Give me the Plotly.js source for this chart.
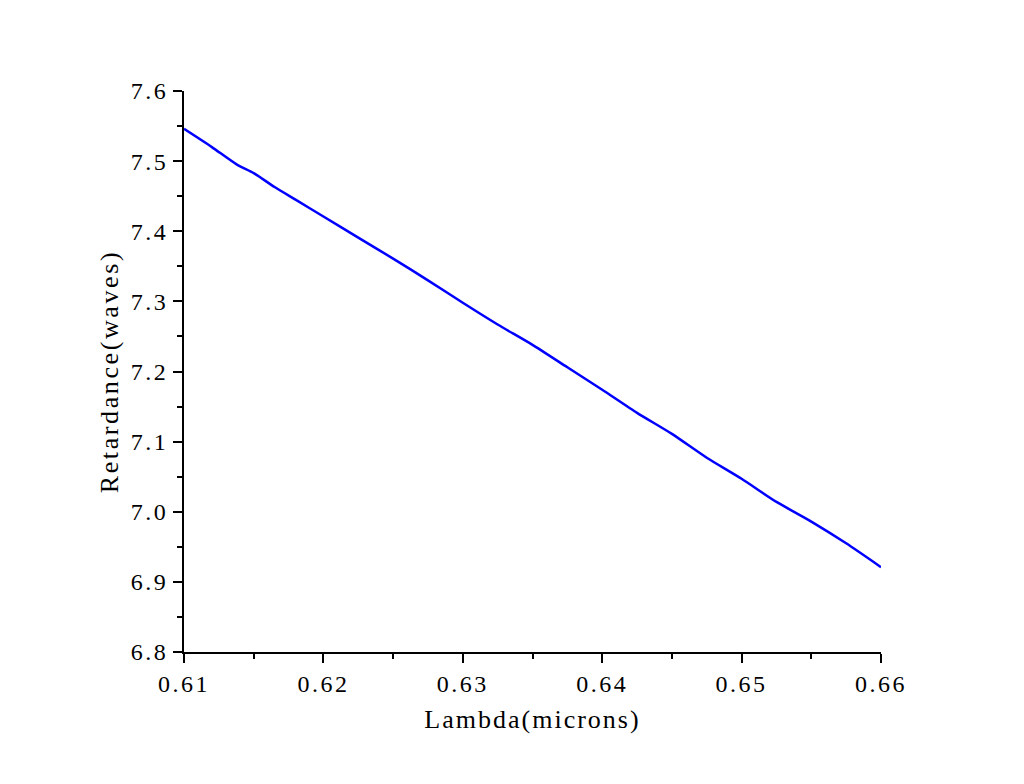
<!DOCTYPE html>
<html>
<head>
<meta charset="utf-8">
<script src="https://cdn.plot.ly/plotly-3.0.1.min.js"></script>
<style>
html,body{margin:0;padding:0;background:#fff;}
#chart{width:1024px;height:784px;}
.xtick text, .ytick text { letter-spacing: 2.5px; }
.xtitle { letter-spacing: 2px; }
.ytitle { letter-spacing: 2.6px; }
</style>
</head>
<body>
<div id="chart"></div>
<script>
const lambda = [0.610, 0.612, 0.6138, 0.615, 0.6165, 0.618, 0.620, 0.6225, 0.625, 0.6275, 0.630, 0.6325, 0.635, 0.6375, 0.640, 0.6425, 0.645, 0.6475, 0.650, 0.6525, 0.655, 0.6575, 0.660];
const retardance = [7.546, 7.520, 7.495, 7.483, 7.463, 7.445, 7.421, 7.391, 7.361, 7.330, 7.298, 7.267, 7.238, 7.206, 7.174, 7.141, 7.111, 7.077, 7.047, 7.014, 6.986, 6.955, 6.921];
const xTitle = 'Lambda(microns)';
const yTitle = 'Retardance(waves)';

const font = 'Liberation Serif, DejaVu Serif, serif';
const trace = {
  x: lambda, y: retardance, type: 'scatter', mode: 'lines',
  line: {color: '#0000ff', width: 2.5, shape: 'spline', smoothing: 0.6}, hoverinfo: 'skip'
};
const layout = {
  width: 1024, height: 784,
  margin: {l: 184, r: 143, t: 91, b: 132},
  paper_bgcolor: '#fff', plot_bgcolor: '#fff',
  showlegend: false,
  font: {family: font, color: '#000'},
  xaxis: {
    range: [0.61, 0.66], tickmode: 'linear', tick0: 0.61, dtick: 0.01,
    tickformat: '.2f',
    showgrid: false, zeroline: false, showline: true, linecolor: '#000', linewidth: 2,
    ticks: 'outside', ticklen: 9, tickwidth: 2, tickcolor: '#000',
    minor: {dtick: 0.005, ticks: 'outside', ticklen: 5, tickwidth: 2, tickcolor: '#000', showgrid: false},
    tickfont: {family: font, size: 24, color: '#000'},
    title: {text: xTitle, font: {family: font, size: 26, color: '#000'}, standoff: 14}
  },
  yaxis: {
    range: [6.8, 7.6], tickmode: 'linear', tick0: 6.8, dtick: 0.1,
    tickformat: '.1f',
    showgrid: false, zeroline: false, showline: true, linecolor: '#000', linewidth: 2,
    ticks: 'outside', ticklen: 9, tickwidth: 2, tickcolor: '#000',
    minor: {dtick: 0.05, ticks: 'outside', ticklen: 5, tickwidth: 2, tickcolor: '#000', showgrid: false},
    tickfont: {family: font, size: 24, color: '#000'},
    title: {text: yTitle, font: {family: font, size: 26, color: '#000'}, standoff: 5}
  }
};
Plotly.newPlot('chart', [trace], layout, {displayModeBar: false, staticPlot: true});
</script>
</body>
</html>
